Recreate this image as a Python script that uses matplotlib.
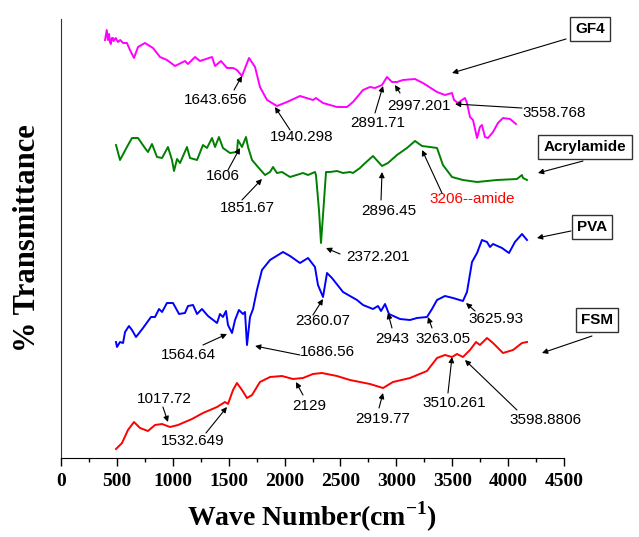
import matplotlib
matplotlib.use("Agg")
import matplotlib.pyplot as plt

plt.rcParams['mathtext.fontset'] = 'custom'
plt.rcParams['mathtext.rm'] = 'Liberation Serif'
plt.rcParams['mathtext.bf'] = 'Liberation Serif:bold'

# FTIR spectra (wave number, arbitrary transmittance with offsets)
gf4_x = [394, 409, 420, 430, 438, 445, 455, 465, 470, 490, 510, 530, 555, 590, 617, 653, 689, 751,
         823, 886, 948, 1020, 1109, 1136, 1199, 1243, 1351, 1378, 1431, 1485, 1539, 1574, 1619, 1682,
         1736, 1780, 1843, 1932, 2022, 2138, 2254, 2281, 2344, 2469, 2559, 2612, 2702, 2764, 2809,
         2872, 2916, 2961, 3006, 3059, 3167, 3238, 3364, 3435, 3498, 3516, 3551, 3587, 3614, 3632,
         3659, 3686, 3722, 3748, 3766, 3793, 3820, 3865, 3909, 3954, 4017, 4070]
gf4_y = [418, 428, 418, 424, 416, 414, 420, 420, 417, 420, 416, 418, 415, 415, 408, 400, 411, 415,
         410, 401, 398, 392, 397, 394, 401, 397, 401, 392, 397, 390, 390, 388, 382, 400,
         391, 371, 358, 352, 356, 362, 358, 360, 355, 351, 351, 356, 368, 371, 370,
         373, 381, 376, 376, 378, 379, 375, 366, 363, 365, 358, 355, 358, 360, 355,
         341, 338, 320, 331, 333, 321, 320, 326, 335, 340, 339, 334]

acr_x = [492, 528, 590, 635, 689, 751, 778, 814, 859, 904, 957, 993, 1011, 1038, 1065, 1127, 1154,
         1217, 1270, 1306, 1351, 1378, 1413, 1449, 1512, 1574, 1583, 1619, 1655, 1673, 1709, 1762,
         1825, 1870, 1897, 1932, 1977, 2049, 2165, 2210, 2272, 2281, 2308, 2326, 2344, 2371, 2406,
         2469, 2523, 2585, 2612, 2675, 2702, 2791, 2872, 2925, 3006, 3095, 3167, 3230, 3301, 3364,
         3417, 3498, 3596, 3722, 3900, 4079, 4124, 4133, 4169]
acr_y = [313, 298, 311, 320, 320, 310, 306, 314, 301, 300, 311, 298, 287, 299, 295, 311, 300,
         298, 313, 310, 320, 311, 321, 310, 305, 306, 318, 311, 321, 311, 298, 291,
         283, 286, 291, 285, 286, 281, 285, 283, 286, 283, 248, 215, 243, 286, 286,
         287, 285, 286, 285, 290, 293, 302, 292, 295, 303, 310, 317, 312, 311, 310,
         293, 281, 278, 276, 278, 279, 283, 280, 278]

pva_x = [492, 501, 528, 555, 573, 608, 635, 671, 734, 805, 841, 877, 904, 948, 1002, 1056, 1109,
         1136, 1181, 1217, 1261, 1315, 1396, 1422, 1449, 1476, 1494, 1530, 1557, 1592, 1628, 1646,
         1664, 1691, 1718, 1753, 1798, 1870, 1986, 2049, 2138, 2210, 2272, 2299, 2344, 2380, 2424,
         2523, 2648, 2702, 2791, 2836, 2863, 2899, 2934, 3033, 3122, 3185, 3274, 3319, 3364, 3435,
         3507, 3596, 3632, 3677, 3722, 3766, 3811, 3838, 3865, 3945, 4008, 4061, 4124, 4169]
pva_y = [116, 111, 116, 115, 126, 132, 128, 121, 130, 141, 141, 149, 146, 155, 155, 144, 145,
         152, 153, 144, 149, 142, 135, 144, 141, 147, 133, 125, 138, 148, 144, 146,
         113, 141, 149, 168, 188, 198, 206, 202, 195, 200, 191, 173, 161, 185, 180,
         166, 158, 153, 149, 152, 147, 154, 144, 139, 138, 140, 141, 149, 158, 162,
         160, 157, 166, 196, 205, 218, 216, 211, 214, 210, 205, 216, 224, 218]

fsm_x = [492, 546, 599, 653, 707, 778, 841, 904, 975, 1047, 1109, 1172, 1270, 1396, 1467, 1494,
         1539, 1574, 1619, 1664, 1709, 1780, 1870, 1977, 2075, 2165, 2254, 2335, 2469, 2585, 2764,
         2881, 2970, 3122, 3274, 3364, 3435, 3498, 3543, 3596, 3659, 3713, 3748, 3811, 3865, 3954,
         4044, 4124, 4169]
fsm_y = [9, 15, 28, 36, 30, 27, 33, 34, 31, 33, 36, 39, 45, 51, 56, 54,
         68, 75, 68, 60, 63, 76, 81, 82, 79, 80, 84, 85, 82, 78, 74,
         70, 76, 80, 87, 100, 103, 101, 104, 101, 108, 116, 113, 120, 115, 105,
         108, 115, 116]

# peak labels: text, text position, arrow tail, arrow head
peak_labels = ['1643.656', '1940.298', '2891.71', '2997.201', '3558.768',
               '1606', '1851.67', '2372.201', '2896.45', '3206--amide',
               '2360.07', '1564.64', '1686.56', '2943', '3263.05', '3625.93',
               '1017.72', '1532.649', '2129', '2919.77', '3510.261', '3598.8806']
peak_text = [(1387, 358), (2156, 321), (2836, 335), (3203, 352), (4410, 345),
             (1449, 282), (1664, 250), (2836, 201), (2934, 247), (3677, 259),
             (2344, 137), (1136, 103), (2380, 106), (2961, 119), (3417, 119), (3892, 139),
             (921, 59), (1181, 17), (2219, 52), (2881, 39), (3516, 55), (4339, 38)]
peak_tail = [(1548, 368), (2049, 328), (2809, 345), (3033, 365), (4124, 350),
             (1494, 288), (1619, 258), (2496, 204), (2863, 258), (3408, 265),
             (2254, 143), (1270, 113), (2138, 103), (2961, 130), (3319, 130), (3704, 147),
             (912, 51), (1297, 25), (2165, 63), (2845, 50), (3462, 65), (4079, 48)]
peak_head = [(1619, 382), (1914, 351), (2881, 372), (2988, 373), (3525, 354),
             (1601, 310), (1798, 279), (2371, 210), (2872, 286), (3230, 308),
             (2344, 159), (1485, 124), (1736, 112), (2925, 145), (3283, 141), (3623, 155),
             (957, 36), (1485, 51), (2102, 76), (2881, 65), (3498, 101), (3614, 98)]

names = ['GF4', 'Acrylamide', 'PVA', 'FSM']
name_pos = [(4732, 429), (4688, 311), (4750, 231), (4795, 138)]
name_tail = [(4518, 419), (4670, 297), (4562, 227), (4750, 122)]
name_head = [(3498, 385), (4267, 285), (4258, 220), (4303, 105)]

fig = plt.figure(figsize=(6.39, 5.37), dpi=100)
ax = fig.add_axes([61 / 639, 79 / 537, 503 / 639, 439 / 537])

ax.plot(gf4_x, gf4_y, color='#ff00ff', lw=1.4)
ax.plot(acr_x, acr_y, color='#008000', lw=1.4)
ax.plot(pva_x, pva_y, color='#0000ff', lw=1.4)
ax.plot(fsm_x, fsm_y, color='#ff0000', lw=1.4)

arrow = dict(arrowstyle='-|>', color='black', lw=0.8, mutation_scale=8, shrinkA=0, shrinkB=0)
for lab, t, a, h in zip(peak_labels, peak_text, peak_tail, peak_head):
    col = 'red' if 'amide' in lab else 'black'
    ax.text(t[0], t[1], lab, ha='center', va='center', fontsize=11, color=col,
            family='Liberation Sans', clip_on=False)
    ax.annotate('', xy=h, xytext=a, arrowprops=arrow, annotation_clip=False)

for lab, t, a, h in zip(names, name_pos, name_tail, name_head):
    ax.text(t[0], t[1], lab, ha='center', va='center', fontsize=11, fontweight='bold',
            family='Liberation Sans', clip_on=False,
            bbox=dict(boxstyle='square,pad=0.35', fc='white', ec='#333333', lw=1))
    ax.annotate('', xy=h, xytext=a, arrowprops=arrow, annotation_clip=False)

ax.set_xlim(0, 4500)
ax.set_ylim(0, 439)
ax.set_xticks(range(0, 4501, 500))
ax.set_xticks(range(250, 4500, 500), minor=True)
ax.set_yticks([])
ax.tick_params(axis='x', which='major', length=6, width=1, pad=5)
ax.tick_params(axis='x', which='minor', length=3, width=1)
for lbl in ax.get_xticklabels():
    lbl.set_family('Liberation Serif')
    lbl.set_fontweight('bold')
    lbl.set_fontsize(14)
ax.spines['top'].set_visible(False)
ax.spines['right'].set_visible(False)
ax.spines['left'].set_color('#333333')

ax.set_xlabel(r'Wave Number(cm$^{\mathbf{-1}}$)', family='Liberation Serif', fontweight='bold',
              fontsize=20, labelpad=7)
ax.set_ylabel('% Transmittance', family='Liberation Serif', fontweight='bold', fontsize=22,
              labelpad=14)

fig.savefig('out.png', dpi=100)
